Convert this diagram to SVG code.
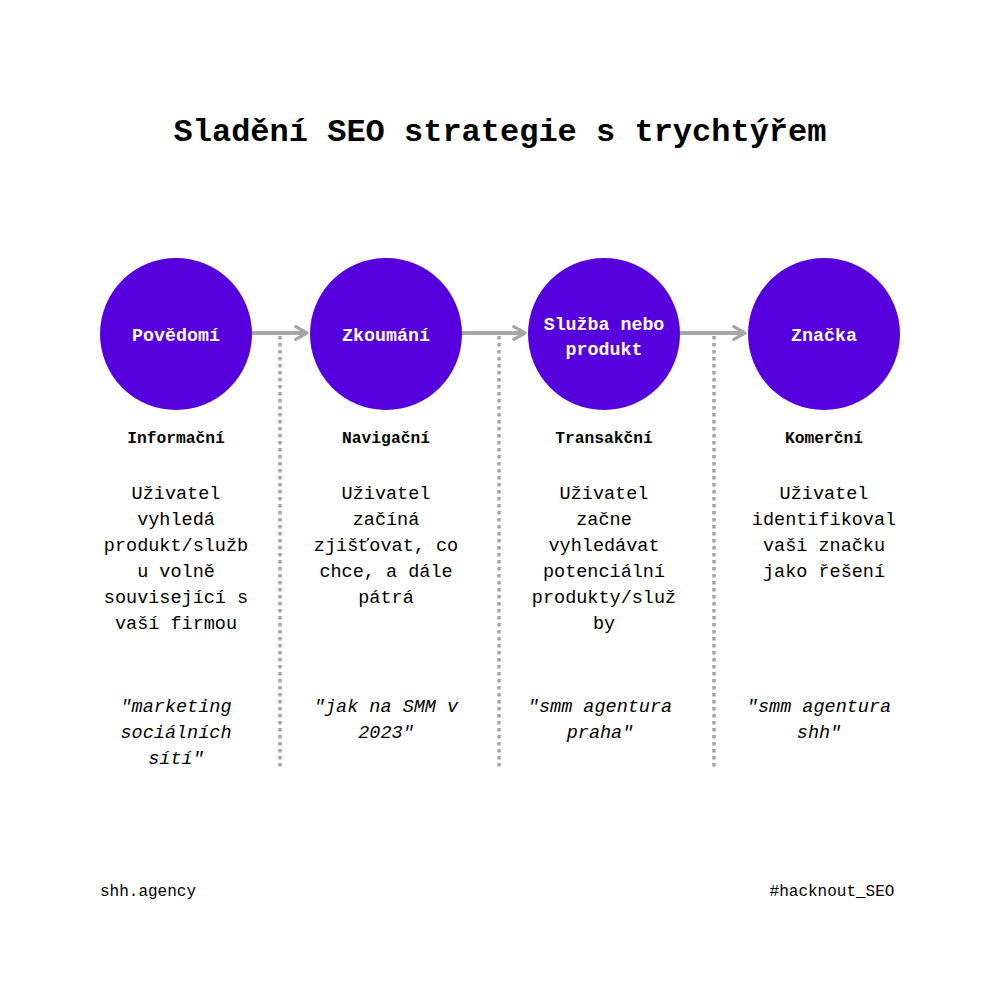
<svg xmlns="http://www.w3.org/2000/svg" width="1000" height="1000" viewBox="0 0 1000 1000">
<style>
text{font-family:"Liberation Mono","DejaVu Sans Mono",monospace;text-anchor:middle;fill:#000}
.title{font-size:32px;font-weight:bold}
.cl{font-size:18.3px;font-weight:bold;fill:#fff}
.hd{font-size:16.3px;font-weight:bold}
.bd{font-size:18.5px}
.q{font-size:18.5px;font-style:italic}
.ft{font-size:16px}
.circ{fill:#5500dd}
.arr{stroke:#a6a6a6;stroke-width:4;fill:none}
.dot{stroke:#a6a6a6;stroke-width:3.5;stroke-dasharray:3.5 3.5;fill:none}
</style>
<defs>
<marker id="ah" viewBox="0 0 10 10" refX="8" refY="5" markerWidth="4" markerHeight="4" orient="auto" markerUnits="strokeWidth">
<path d="M1,1 L8,5 L1,9" fill="none" stroke="#a6a6a6" stroke-width="2" stroke-linecap="round" stroke-linejoin="round"/>
</marker>
</defs>
<rect width="1000" height="1000" fill="#fff"/>
<text class="title" x="500" y="141">Sladění SEO strategie s trychtýřem</text>
<g id="connectors">
<line class="arr" x1="252" y1="333" x2="307" y2="333" marker-end="url(#ah)"/>
<line class="arr" x1="462" y1="333" x2="525" y2="333" marker-end="url(#ah)"/>
<line class="arr" x1="680" y1="333" x2="745" y2="333" marker-end="url(#ah)"/>
<line class="dot" x1="280" y1="336" x2="280" y2="770"/>
<line class="dot" x1="499" y1="336" x2="499" y2="770"/>
<line class="dot" x1="714" y1="336" x2="714" y2="770"/>
</g>
<g id="n1">
<circle class="circ" cx="176" cy="334" r="76"/>
<text class="cl" x="176" y="341">Povědomí</text>
<text class="hd" x="176" y="443">Informační</text>
<text class="bd" x="176" y="499">Uživatel</text>
<text class="bd" x="176" y="525">vyhledá</text>
<text class="bd" x="176" y="551">produkt/služb</text>
<text class="bd" x="176" y="577">u volně</text>
<text class="bd" x="176" y="603">související s</text>
<text class="bd" x="176" y="629">vaší firmou</text>
<text class="q" x="176" y="712">"marketing</text>
<text class="q" x="176" y="738">sociálních</text>
<text class="q" x="176" y="764">sítí"</text>
</g>
<g id="n2">
<circle class="circ" cx="386" cy="334" r="76"/>
<text class="cl" x="386" y="341">Zkoumání</text>
<text class="hd" x="386" y="443">Navigační</text>
<text class="bd" x="386" y="499">Uživatel</text>
<text class="bd" x="386" y="525">začíná</text>
<text class="bd" x="386" y="551">zjišťovat, co</text>
<text class="bd" x="386" y="577">chce, a dále</text>
<text class="bd" x="386" y="603">pátrá</text>
<text class="q" x="386" y="712">"jak na SMM v</text>
<text class="q" x="386" y="738">2023"</text>
</g>
<g id="n3">
<circle class="circ" cx="604" cy="334" r="76"/>
<text class="cl" x="604" y="330">Služba nebo</text>
<text class="cl" x="604" y="355">produkt</text>
<text class="hd" x="604" y="443">Transakční</text>
<text class="bd" x="604" y="499">Uživatel</text>
<text class="bd" x="604" y="525">začne</text>
<text class="bd" x="604" y="551">vyhledávat</text>
<text class="bd" x="604" y="577">potenciální</text>
<text class="bd" x="604" y="603">produkty/služ</text>
<text class="bd" x="604" y="629">by</text>
<text class="q" x="600" y="712">"smm agentura</text>
<text class="q" x="600" y="738">praha"</text>
</g>
<g id="n4">
<circle class="circ" cx="824" cy="334" r="76"/>
<text class="cl" x="824" y="341">Značka</text>
<text class="hd" x="824" y="443">Komerční</text>
<text class="bd" x="824" y="499">Uživatel</text>
<text class="bd" x="824" y="525">identifikoval</text>
<text class="bd" x="824" y="551">vaši značku</text>
<text class="bd" x="824" y="577">jako řešení</text>
<text class="q" x="819" y="712">"smm agentura</text>
<text class="q" x="819" y="738">shh"</text>
</g>
<text class="ft" x="148" y="896">shh.agency</text>
<text class="ft" x="832" y="896">#hacknout_SEO</text>
</svg>
